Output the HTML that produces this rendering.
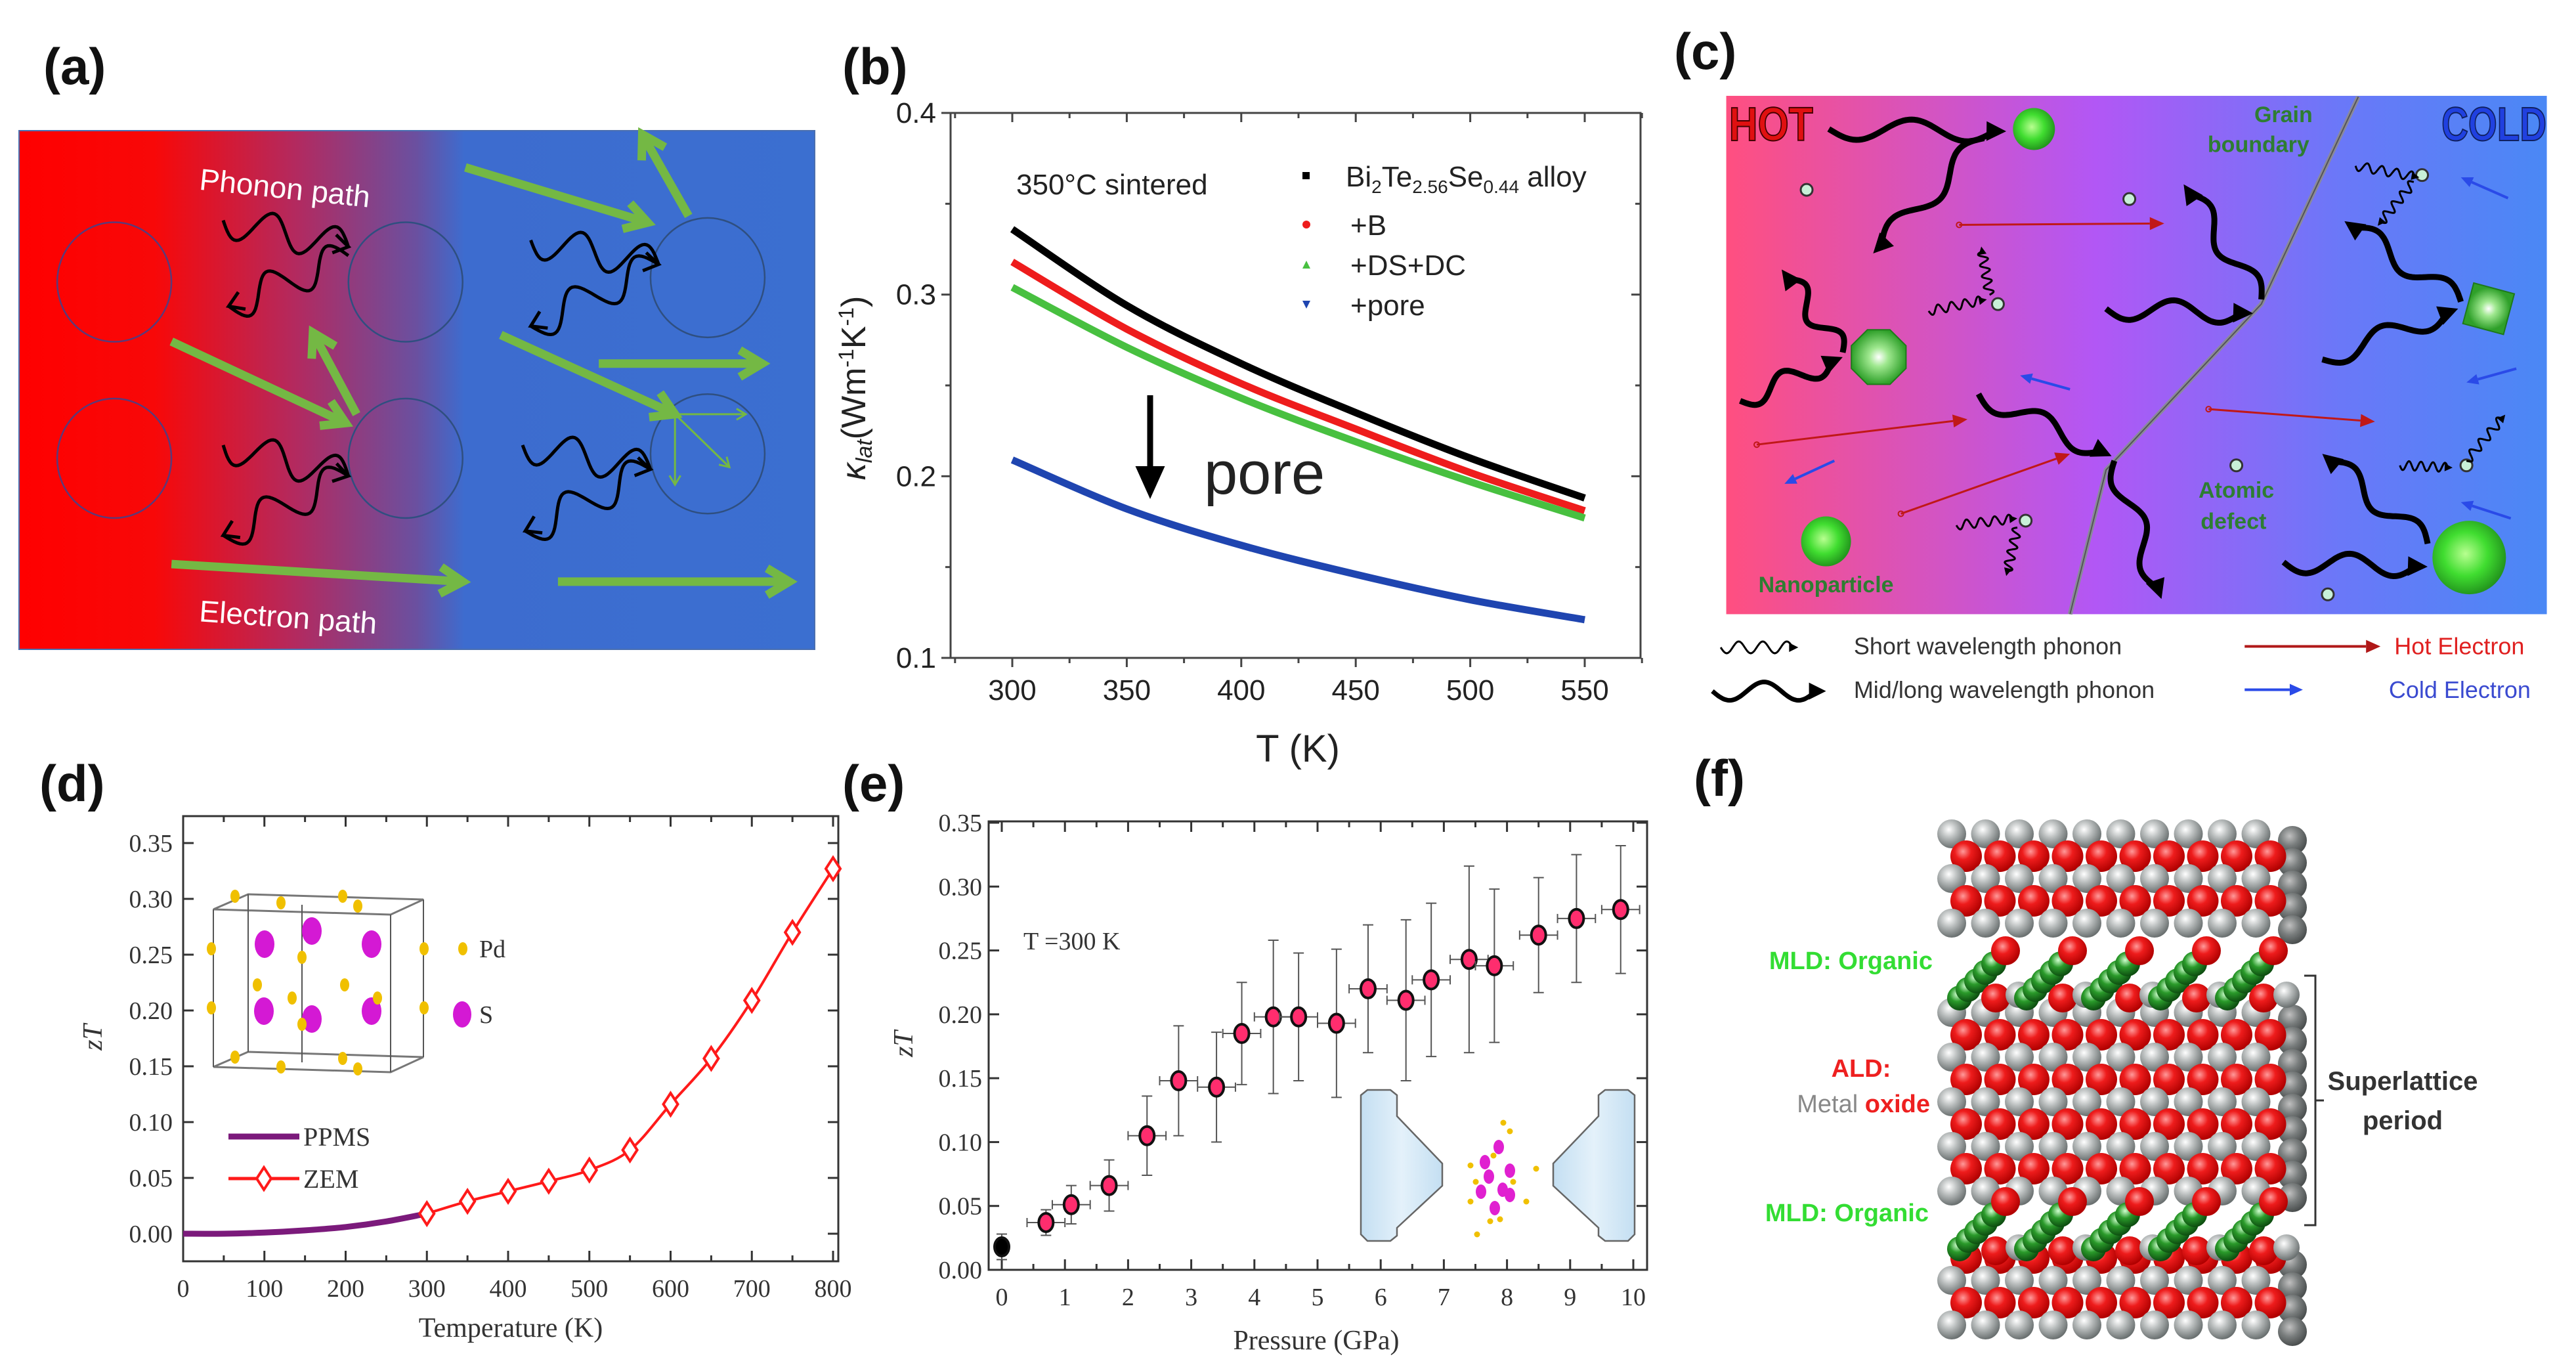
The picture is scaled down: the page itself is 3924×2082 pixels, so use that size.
<!DOCTYPE html>
<html><head><meta charset="utf-8">
<style>
html,body{margin:0;padding:0;background:#fff;}
svg{display:block;}
.sans{font-family:"Liberation Sans",sans-serif;}
.serif{font-family:"Liberation Serif",serif;}
</style></head>
<body>
<svg id="fig" xmlns="http://www.w3.org/2000/svg" width="3924" height="2082" viewBox="0 0 3924 2082">
<defs>
<linearGradient id="gA" x1="0" x2="1" y1="0" y2="0">
<stop offset="0" stop-color="#ff0000"/><stop offset="0.17" stop-color="#f80808"/><stop offset="0.35" stop-color="#b22a60"/><stop offset="0.5" stop-color="#6a50a0"/><stop offset="0.56" stop-color="#3d6ccf"/><stop offset="1" stop-color="#3b6fd0"/>
</linearGradient>
<linearGradient id="gC" x1="0" x2="1" y1="0" y2="0">
<stop offset="0" stop-color="#ff4f80"/><stop offset="0.45" stop-color="#b257f5"/><stop offset="0.75" stop-color="#6a78f8"/><stop offset="1" stop-color="#4a88f5"/>
</linearGradient>
<linearGradient id="gAnvil" x1="0" x2="1" y1="0" y2="0"><stop offset="0" stop-color="#c4dff2"/><stop offset="0.5" stop-color="#e4f1fa"/><stop offset="1" stop-color="#c4dff2"/></linearGradient>
<radialGradient id="gBall" cx="0.45" cy="0.45" r="0.6"><stop offset="0" stop-color="#b8ff90"/><stop offset="0.5" stop-color="#40dd30"/><stop offset="1" stop-color="#1e8a1a"/></radialGradient>
<radialGradient id="gOct" cx="0.5" cy="0.5" r="0.5"><stop offset="0" stop-color="#ffffff"/><stop offset="0.35" stop-color="#9fe88f"/><stop offset="1" stop-color="#2fa02a"/></radialGradient>
<radialGradient id="gRed" cx="0.4" cy="0.35" r="0.65"><stop offset="0" stop-color="#ff9a9a"/><stop offset="0.4" stop-color="#ee1c1c"/><stop offset="1" stop-color="#b00000"/></radialGradient>
<radialGradient id="gGrey" cx="0.4" cy="0.35" r="0.65"><stop offset="0" stop-color="#ffffff"/><stop offset="0.45" stop-color="#b8bcbc"/><stop offset="1" stop-color="#6a7070"/></radialGradient>
<radialGradient id="gDark" cx="0.4" cy="0.35" r="0.65"><stop offset="0" stop-color="#c0c0c0"/><stop offset="0.5" stop-color="#7a7e7e"/><stop offset="1" stop-color="#4a4e4e"/></radialGradient>
<radialGradient id="gGrn" cx="0.4" cy="0.35" r="0.65"><stop offset="0" stop-color="#d0ffd0"/><stop offset="0.45" stop-color="#2a9a2a"/><stop offset="1" stop-color="#0d4d10"/></radialGradient>
</defs>
<g id="layer"></g>
</svg>
<script>
// ---------- Panel (b) data ----------
const bTemps = [300, 350, 400, 450, 500, 550];
const bAlloy = [0.336, 0.294, 0.262, 0.235, 0.210, 0.188];
const bB     = [0.318, 0.281, 0.251, 0.226, 0.202, 0.181];
const bDSDC  = [0.304, 0.271, 0.243, 0.219, 0.197, 0.177];
const bPore  = [0.209, 0.182, 0.162, 0.146, 0.132, 0.121];
const bXTicks = [300, 350, 400, 450, 500, 550];
const bYTicks = [0.1, 0.2, 0.3, 0.4];
// ---------- Panel (d) data ----------
const dPpmsT = [0, 50, 100, 150, 200, 250, 300];
const dPpmsZT = [0, 0, 0.001, 0.003, 0.006, 0.011, 0.018];
const dZemT = [300, 350, 400, 450, 500, 550, 600, 650, 700, 750, 800];
const dZemZT = [0.018, 0.029, 0.038, 0.047, 0.057, 0.075, 0.116, 0.157, 0.209, 0.270, 0.327];
const dXTicks = [0, 100, 200, 300, 400, 500, 600, 700, 800];
const dYTicks = ['0.00','0.05','0.10','0.15','0.20','0.25','0.30','0.35'];
// ---------- Panel (e) data ----------
const ePressure = [0.7, 1.1, 1.7, 2.3, 2.8, 3.4, 3.8, 4.3, 4.7, 5.3, 5.8, 6.4, 6.8, 7.4, 7.8, 8.5, 9.1, 9.8];
const eZT       = [0.037, 0.051, 0.066, 0.105, 0.148, 0.143, 0.185, 0.198, 0.198, 0.193, 0.220, 0.211, 0.227, 0.243, 0.238, 0.262, 0.275, 0.282];
const eErr      = [0.010, 0.015, 0.020, 0.031, 0.043, 0.043, 0.040, 0.060, 0.050, 0.058, 0.050, 0.063, 0.060, 0.073, 0.060, 0.045, 0.050, 0.050];
const ePErr = 0.3;
const eAmbientP = [0];
const eAmbientZT = [0.018];
const eAmbientErr = [0.010];
const eXTicks = [0,1,2,3,4,5,6,7,8,9,10];
const eYTicks = ['0.00','0.05','0.10','0.15','0.20','0.25','0.30','0.35'];

const NS = 'http://www.w3.org/2000/svg';
const root = document.getElementById('layer');
function mk(tag, attrs, parent, text) {
  const e = document.createElementNS(NS, tag);
  for (const k in attrs) e.setAttribute(k, attrs[k]);
  if (text !== undefined) e.textContent = text;
  (parent || root).appendChild(e);
  return e;
}
function grp(name, parent) {
  const g = mk('g', {}, parent);
  
  
  return g;
}
function smoothPath(pts) {
  let d = 'M' + pts[0][0] + ',' + pts[0][1];
  for (let i = 0; i < pts.length - 1; i++) {
    const p0 = pts[Math.max(0, i - 1)], p1 = pts[i], p2 = pts[i + 1], p3 = pts[Math.min(pts.length - 1, i + 2)];
    const c1 = [p1[0] + (p2[0] - p0[0]) / 6, p1[1] + (p2[1] - p0[1]) / 6];
    const c2 = [p2[0] - (p3[0] - p1[0]) / 6, p2[1] - (p3[1] - p1[1]) / 6];
    d += ' C' + c1.join(',') + ' ' + c2.join(',') + ' ' + p2.join(',');
  }
  return d;
}
function wavy(x1, y1, x2, y2, amp, n, sw, col, head, parent) {
  const dx = x2 - x1, dy = y2 - y1, L = Math.hypot(dx, dy);
  const ux = dx / L, uy = dy / L, nx = -uy, ny = ux;
  const hl = head;
  const Lw = L - hl * 0.6;
  let d = '';
  const steps = 60;
  for (let i = 0; i <= steps; i++) {
    const t = i / steps;
    const s = t * Lw, o = amp * Math.sin(t * n * 2 * Math.PI);
    const x = x1 + ux * s + nx * o, y = y1 + uy * s + ny * o;
    d += (i ? ' L' : 'M') + x.toFixed(1) + ',' + y.toFixed(1);
  }
  mk('path', {d: d, fill: 'none', stroke: col, 'stroke-width': sw, 'stroke-linejoin': 'round'}, parent);
  const bx = x2 - ux * hl, by = y2 - uy * hl;
  mk('path', {d: `M${x2},${y2} L${bx + nx * hl * 0.5},${by + ny * hl * 0.5} L${bx - nx * hl * 0.5},${by - ny * hl * 0.5} Z`, fill: col}, parent);
}
function arrow(x1, y1, x2, y2, sw, col, head, parent, open) {
  const dx = x2 - x1, dy = y2 - y1, L = Math.hypot(dx, dy);
  const ux = dx / L, uy = dy / L, nx = -uy, ny = ux;
  const bx = x2 - ux * head, by = y2 - uy * head;
  if (open) {
    mk('line', {x1: x1, y1: y1, x2: x2 - ux * sw * 0.5, y2: y2 - uy * sw * 0.5, stroke: col, 'stroke-width': sw}, parent);
    mk('path', {d: `M${bx + nx * head * 0.6},${by + ny * head * 0.6} L${x2},${y2} L${bx - nx * head * 0.6},${by - ny * head * 0.6}`, fill: 'none', stroke: col, 'stroke-width': sw, 'stroke-linejoin': 'miter'}, parent);
  } else {
    mk('line', {x1: x1, y1: y1, x2: bx, y2: by, stroke: col, 'stroke-width': sw}, parent);
    mk('path', {d: `M${x2},${y2} L${bx + nx * head * 0.45},${by + ny * head * 0.45} L${bx - nx * head * 0.45},${by - ny * head * 0.45} Z`, fill: col}, parent);
  }
}

// ---------- panel labels ----------
[['(a)', 66, 128], ['(b)', 1283, 128], ['(c)', 2550, 105], ['(d)', 60, 1220], ['(e)', 1283, 1220], ['(f)', 2580, 1212]].forEach(l => {
  const t = mk('text', {x: l[1], y: l[2], 'font-size': 78, 'font-weight': 'bold', class: 'sans', fill: '#111'}, root, l[0]);
  
  
});

// ================= Panel (a) =================
(function () {
  const g = grp('panel-a-schematic');
  const P = (x, y) => [x / 1.206, y / 1.49];
  mk('rect', {x: 29, y: 199, width: 1212, height: 790, fill: 'url(#gA)', stroke: '#4a6fb0', 'stroke-width': 2}, g);
  [[210, 640], [210, 1040], [745, 640], [745, 1040], [1300, 630], [1300, 1030]].forEach((c, i) => {
    const p = P(c[0], c[1]);
    mk('ellipse', {cx: p[0], cy: p[1], rx: 87, ry: 91, fill: 'none', stroke: i < 2 ? '#5a3a7a' : '#2f4f80', 'stroke-width': 2.5}, g);
  });
  const thick = [[315, 775, 635, 960], [655, 940, 575, 755], [855, 380, 1190, 505], [1265, 490, 1180, 305], [920, 760, 1240, 940], [1100, 825, 1400, 825], [315, 1280, 850, 1320], [1025, 1320, 1450, 1320]];
  thick.forEach(a => { const p = P(a[0], a[1]), q = P(a[2], a[3]); arrow(p[0], p[1], q[0], q[1], 13, '#74b844', 34, g, true); });
  [[1240, 940, 1370, 940], [1240, 940, 1240, 1100], [1240, 940, 1340, 1060]].forEach(a => { const p = P(a[0], a[1]), q = P(a[2], a[3]); arrow(p[0], p[1], q[0], q[1], 3, '#74b844', 14, g, true); });
  const waves = [[410, 500, 640, 560], [640, 580, 420, 695], [410, 1010, 640, 1080], [640, 1080, 410, 1215], [975, 545, 1210, 600], [1210, 600, 975, 740], [960, 1010, 1195, 1065], [1195, 1065, 965, 1205]];
  waves.forEach(w => { const p = P(w[0], w[1]), q = P(w[2], w[3]); wavy(p[0], p[1], q[0], q[1], 26, 2, 5, '#000', 0.1, g); const L = Math.hypot(q[0]-p[0], q[1]-p[1]); const ux=(q[0]-p[0])/L, uy=(q[1]-p[1])/L; mk('path',{d:`M${q[0]-ux*22-uy*14},${q[1]-uy*22+ux*14} L${q[0]},${q[1]} L${q[0]-ux*22+uy*14},${q[1]-uy*22-ux*14}`,fill:'none',stroke:'#000','stroke-width':5},g); });
  let p = P(365, 430);
  mk('text', {x: p[0], y: p[1], 'font-size': 46, fill: '#fff', class: 'sans', transform: `rotate(6 ${p[0]} ${p[1]})`}, g, 'Phonon path');
  p = P(365, 1410);
  mk('text', {x: p[0], y: p[1], 'font-size': 46, fill: '#fff', class: 'sans', transform: `rotate(4 ${p[0]} ${p[1]})`}, g, 'Electron path');
})();

// ================= Panel (b) =================
(function () {
  const g = grp('panel-b-chart');
  const L = 1448, R = 2499, T = 172, B = 1002;
  const xs = v => 1542 + (v - 300) * (2414 - 1542) / 250;
  const ys = v => 1002 - (v - 0.1) * (1002 - 172) / 0.3;
  const fr = mk('rect', {x: L, y: T, width: R - L, height: B - T, fill: 'none', stroke: '#444', 'stroke-width': 3}, g);
  
  
  for (let v = 275; v <= 575; v += 25) {
    const x = xs(v), len = v % 50 === 0 ? 14 : 8;
    mk('line', {x1: x, y1: B, x2: x, y2: B + len, stroke: '#444', 'stroke-width': 3}, g);
    mk('line', {x1: x, y1: T, x2: x, y2: T + len, stroke: '#444', 'stroke-width': 3}, g);
  }
  for (let v = 0.1; v <= 0.4001; v += 0.05) {
    const y = ys(v), len = Math.abs(v * 10 - Math.round(v * 10)) < 1e-6 ? 14 : 8;
    mk('line', {x1: L - len, y1: y, x2: L, y2: y, stroke: '#444', 'stroke-width': 3}, g);
    mk('line', {x1: R - len, y1: y, x2: R, y2: y, stroke: '#444', 'stroke-width': 3}, g);
  }
  bXTicks.forEach(v => {
    const t = mk('text', {x: xs(v), y: 1066, 'text-anchor': 'middle', 'font-size': 44, class: 'sans', fill: '#222'}, g, String(v));
    
    
  });
  bYTicks.forEach(v => {
    const t = mk('text', {x: L - 22, y: ys(v) + 15, 'text-anchor': 'end', 'font-size': 44, class: 'sans', fill: '#222'}, g, v.toFixed(1));
    
    
  });
  const xt = mk('text', {x: 1977, y: 1160, 'text-anchor': 'middle', 'font-size': 58, class: 'sans', fill: '#222'}, g, 'T (K)');
  
  
  const yt = mk('text', {x: 0, y: 0, 'text-anchor': 'middle', 'font-size': 52, class: 'sans', fill: '#222', transform: 'translate(1318,591) rotate(-90)'}, g);
  
  
  mk('tspan', {'font-style': 'italic'}, yt, 'κ');
  mk('tspan', {'font-size': 34, 'font-style': 'italic', dy: 10}, yt, 'lat');
  mk('tspan', {dy: -10}, yt, '(Wm');
  mk('tspan', {'font-size': 32, dy: -18}, yt, '-1');
  mk('tspan', {dy: 18}, yt, 'K');
  mk('tspan', {'font-size': 32, dy: -18}, yt, '-1');
  mk('tspan', {dy: 18}, yt, ')');
  const series = [[bAlloy, '#000000', 'series-alloy'], [bB, '#ee1c1c', 'series-b'], [bDSDC, '#48c040', 'series-ds-dc'], [bPore, '#1f45b0', 'series-pore']];
  series.forEach(s => {
    const pts = bTemps.map((t, i) => [xs(t), ys(s[0][i])]);
    const p = mk('path', {d: smoothPath(pts), fill: 'none', stroke: s[1], 'stroke-width': 11, 'stroke-linecap': 'butt'}, g);
    
    
  });
  mk('text', {x: 1548, y: 296, 'font-size': 44, class: 'sans', fill: '#222'}, g, '350°C sintered');
  const legRows = [[268, '#000', 'sq'], [342, '#ee1c1c', 'dot'], [403, '#48c040', 'tri'], [464, '#1f45b0', 'tri-d']];
  legRows.forEach((r, i) => {
    const lg = grp('legend-entry', g);
    if (r[2] === 'sq') mk('rect', {x: 1984, y: r[0] - 6, width: 11, height: 11, fill: r[1]}, lg);
    else if (r[2] === 'dot') mk('circle', {cx: 1990, cy: r[0], r: 6, fill: r[1]}, lg);
    else if (r[2] === 'tri') mk('path', {d: `M1984,${r[0] + 6} L1996,${r[0] + 6} L1990,${r[0] - 6} Z`, fill: r[1]}, lg);
    else mk('path', {d: `M1984,${r[0] - 6} L1996,${r[0] - 6} L1990,${r[0] + 6} Z`, fill: r[1]}, lg);
    if (i === 0) {
      const t = mk('text', {x: 2050, y: r[0] + 16, 'font-size': 44, class: 'sans', fill: '#222'}, lg);
      mk('tspan', {}, t, 'Bi');
      mk('tspan', {'font-size': 28, dy: 10}, t, '2');
      mk('tspan', {dy: -10}, t, 'Te');
      mk('tspan', {'font-size': 28, dy: 10}, t, '2.56');
      mk('tspan', {dy: -10}, t, 'Se');
      mk('tspan', {'font-size': 28, dy: 10}, t, '0.44');
      mk('tspan', {dy: -10}, t, ' alloy');
    } else {
      mk('text', {x: 2057, y: r[0] + 16, 'font-size': 44, class: 'sans', fill: '#222'}, lg, ['', '+B', '+DS+DC', '+pore'][i]);
    }
  });
  arrow(1752, 602, 1752, 760, 9, '#000', 50, g);
  mk('text', {x: 1834, y: 752, 'font-size': 92, class: 'sans', fill: '#222'}, g, 'pore');
})();

// ================= Panel (c) =================
(function () {
  const g = grp('panel-c-schematic');
  const C = (x, y) => [2600 + x / 1.184, y / 1.425];
  let a = C(35, 208), b = C(1515, 1333);
  mk('rect', {x: a[0], y: a[1], width: b[0] - a[0], height: b[1] - a[1], fill: 'url(#gC)'}, g);
  const gb = [[1175, 210], [1000, 660], [720, 1020], [655, 1333]].map(p => C(p[0], p[1]).join(',')).join(' ');
  mk('polyline', {points: gb, fill: 'none', stroke: '#8a8a9a', 'stroke-width': 7}, g);
  mk('polyline', {points: gb, fill: 'none', stroke: '#555', 'stroke-width': 2}, g);
  let p = C(590, 280); mk('circle', {cx: p[0], cy: p[1], r: 32, fill: 'url(#gBall)'}, g);
  p = C(215, 1175); mk('circle', {cx: p[0], cy: p[1], r: 38, fill: 'url(#gBall)'}, g);
  p = C(1375, 1210); mk('circle', {cx: p[0], cy: p[1], r: 56, fill: 'url(#gBall)'}, g);
  p = C(310, 775);
  let oct = '';
  for (let i = 0; i < 8; i++) { const an = Math.PI / 8 + i * Math.PI / 4; oct += (p[0] + 45 * Math.cos(an)).toFixed(1) + ',' + (p[1] + 45 * Math.sin(an)).toFixed(1) + ' '; }
  mk('polygon', {points: oct, fill: 'url(#gOct)', stroke: '#1e7a1a', 'stroke-width': 2}, g);
  p = C(1410, 670);
  mk('rect', {x: p[0] - 32, y: p[1] - 32, width: 64, height: 64, fill: 'url(#gOct)', stroke: '#1e7a1a', 'stroke-width': 2, transform: `rotate(15 ${p[0]} ${p[1]})`}, g);
  [[180, 412], [762, 432], [525, 660], [1290, 380], [575, 1130], [955, 1010], [1120, 1290], [1370, 1010]].forEach(d => {
    const q = C(d[0], d[1]); mk('circle', {cx: q[0], cy: q[1], r: 9, fill: '#c8f0d8', stroke: '#333', 'stroke-width': 3}, g);
  });
  [[455, 488, 825, 485], [90, 965, 470, 910], [350, 1115, 655, 985], [905, 888, 1205, 915]].forEach(r => {
    const s = C(r[0], r[1]), e = C(r[2], r[3]); arrow(s[0], s[1], e[0], e[1], 3, '#c01818', 22, g);
    mk('circle', {cx: s[0], cy: s[1], r: 4, fill: 'none', stroke: '#c01818', 'stroke-width': 2}, g);
  });
  [[655, 845, 565, 815], [230, 1000, 140, 1050], [1445, 430, 1360, 385], [1460, 800, 1370, 830], [1450, 1125, 1360, 1090]].forEach(r => {
    const s = C(r[0], r[1]), e = C(r[2], r[3]); arrow(s[0], s[1], e[0], e[1], 4, '#2a4ae8', 18, g);
  });
  [[220, 280, 540, 285], [500, 300, 300, 550], [60, 870, 245, 775], [245, 765, 135, 585], [490, 855, 730, 990], [735, 1000, 820, 1300], [720, 670, 985, 680], [1000, 650, 860, 400], [1110, 780, 1355, 670], [1360, 655, 1150, 480], [1040, 1220, 1300, 1230], [1300, 1180, 1110, 985]].forEach(w => {
    const s = C(w[0], w[1]), e = C(w[2], w[3]); wavy(s[0], s[1], e[0], e[1], 16, 1.5, 9, '#000', 30, g);
  });
  [[400, 675, 505, 650], [510, 640, 495, 535], [1170, 360, 1285, 385], [1275, 395, 1210, 490], [450, 1140, 560, 1125], [560, 1145, 540, 1250], [1250, 1010, 1345, 1015], [1370, 1000, 1440, 900]].forEach(w => {
    const s = C(w[0], w[1]), e = C(w[2], w[3]); wavy(s[0], s[1], e[0], e[1], 7, 4, 3, '#000', 12, g);
  });
  p = C(40, 305);
  mk('text', {x: p[0], y: p[1], 'font-size': 72, 'font-weight': 'bold', class: 'sans', fill: '#e01010', stroke: '#400', 'stroke-width': 2, textLength: 128, lengthAdjust: 'spacingAndGlyphs'}, g, 'HOT');
  p = C(1325, 305);
  mk('text', {x: p[0], y: p[1], 'font-size': 72, 'font-weight': 'bold', class: 'sans', fill: '#2040e0', stroke: '#102060', 'stroke-width': 2, textLength: 160, lengthAdjust: 'spacingAndGlyphs'}, g, 'COLD');
  [['Grain', 1040, 265], ['boundary', 995, 330], ['Atomic', 955, 1080], ['defect', 950, 1148], ['Nanoparticle', 215, 1285]].forEach(t => {
    const q = C(t[1], t[2]); mk('text', {x: q[0], y: q[1], 'text-anchor': 'middle', 'font-size': 34, 'font-weight': 'bold', class: 'sans', fill: '#2e7d32'}, g, t[0]);
  });
  const lg = grp('panel-c-legend', g);
  let s = C(25, 1405), e = C(165, 1405); wavy(s[0], s[1], e[0], e[1], 9, 3, 3, '#000', 14, lg);
  s = C(10, 1500); e = C(215, 1500); wavy(s[0], s[1], e[0], e[1], 14, 1.5, 7, '#000', 26, lg);
  s = C(970, 1403); e = C(1215, 1403); arrow(s[0], s[1], e[0], e[1], 4, '#b01818', 22, lg);
  s = C(970, 1497); e = C(1075, 1497); arrow(s[0], s[1], e[0], e[1], 4, '#2a4ae8', 20, lg);
  [['Short wavelength phonon', 265, 1420, '#333'], ['Mid/long wavelength phonon', 265, 1515, '#333'], ['Hot Electron', 1240, 1420, '#e02020'], ['Cold Electron', 1230, 1515, '#3a4ad0']].forEach(t => {
    const q = C(t[1], t[2]); mk('text', {x: q[0], y: q[1], 'font-size': 36, class: 'sans', fill: t[3]}, lg, t[0]);
  });
})();

// ================= Panel (d) =================
(function () {
  const g = grp('panel-d-chart');
  const L = 279, R = 1277, T = 1243, B = 1921;
  const xs = v => 279 + v * (1269 - 279) / 800;
  const ys = v => 1879 - v * (1879 - 1284) / 0.35;
  mk('rect', {x: L, y: T, width: R - L, height: B - T, fill: 'none', stroke: '#333', 'stroke-width': 3}, g);
  for (let v = 0; v <= 800; v += 50) {
    const len = v % 100 === 0 ? 16 : 9;
    mk('line', {x1: xs(v), y1: B, x2: xs(v), y2: B - len, stroke: '#333', 'stroke-width': 3}, g);
    mk('line', {x1: xs(v), y1: T, x2: xs(v), y2: T + len, stroke: '#333', 'stroke-width': 3}, g);
  }
  dYTicks.forEach(v => {
    const y = ys(parseFloat(v));
    mk('line', {x1: L, y1: y, x2: L + 16, y2: y, stroke: '#333', 'stroke-width': 3}, g);
    mk('line', {x1: R - 16, y1: y, x2: R, y2: y, stroke: '#333', 'stroke-width': 3}, g);
    const t = mk('text', {x: L - 16, y: y + 13, 'text-anchor': 'end', 'font-size': 38, class: 'serif', fill: '#333'}, g, v);
    
    
  });
  dXTicks.forEach(v => {
    const t = mk('text', {x: xs(v), y: 1975, 'text-anchor': 'middle', 'font-size': 38, class: 'serif', fill: '#333'}, g, String(v));
    
    
  });
  const xt = mk('text', {x: 778, y: 2036, 'text-anchor': 'middle', 'font-size': 42, class: 'serif', fill: '#333'}, g, 'Temperature (K)');
  
  
  const yt = mk('text', {x: 0, y: 0, 'text-anchor': 'middle', 'font-size': 42, 'font-style': 'italic', class: 'serif', fill: '#333', transform: 'translate(155,1580) rotate(-90)'}, g, 'zT');
  
  
  const pp = mk('path', {d: smoothPath(dPpmsT.map((t, i) => [xs(t), ys(dPpmsZT[i])])), fill: 'none', stroke: '#7b1a7b', 'stroke-width': 9}, g);
  
  
  const zp = mk('path', {d: smoothPath(dZemT.map((t, i) => [xs(t), ys(dZemZT[i])])), fill: 'none', stroke: '#ff1a1a', 'stroke-width': 4}, g);
  
  
  dZemT.forEach((t, i) => {
    const x = xs(t), y = ys(dZemZT[i]);
    const m = mk('path', {d: `M${x},${y - 17} L${x + 11},${y} L${x},${y + 17} L${x - 11},${y} Z`, fill: '#fff', stroke: '#ff1a1a', 'stroke-width': 4}, g);
    
    
  });
  const lg = grp('legend', g);
  mk('line', {x1: 348, y1: 1731, x2: 456, y2: 1731, stroke: '#7b1a7b', 'stroke-width': 9}, lg);
  mk('text', {x: 462, y: 1745, 'font-size': 40, class: 'serif', fill: '#333'}, lg, 'PPMS');
  mk('line', {x1: 348, y1: 1795, x2: 456, y2: 1795, stroke: '#ff1a1a', 'stroke-width': 5}, lg);
  mk('path', {d: 'M402,1778 L413,1795 L402,1812 L391,1795 Z', fill: '#fff', stroke: '#ff1a1a', 'stroke-width': 4}, lg);
  mk('text', {x: 462, y: 1809, 'font-size': 40, class: 'serif', fill: '#333'}, lg, 'ZEM');
  const ins = grp('crystal-structure-inset', g);
  mk('polygon', {points: '325,1385 595,1393 645,1370 378,1362', fill: 'none', stroke: '#777', 'stroke-width': 3}, ins);
  mk('polygon', {points: '325,1625 595,1633 645,1610 378,1602', fill: 'none', stroke: '#777', 'stroke-width': 3}, ins);
  [[325, 1385, 325, 1625], [595, 1393, 595, 1633], [645, 1370, 645, 1610], [378, 1362, 378, 1602], [460, 1378, 460, 1618]].forEach(l => mk('line', {x1: l[0], y1: l[1], x2: l[2], y2: l[3], stroke: '#555', 'stroke-width': 2}, ins));
  [[403, 1438], [475, 1418], [566, 1438], [402, 1540], [475, 1552], [566, 1540]].forEach(c => mk('ellipse', {cx: c[0], cy: c[1], rx: 15, ry: 21, fill: '#d419d4'}, ins));
  [[358, 1365], [428, 1375], [522, 1365], [545, 1380], [322, 1445], [646, 1445], [460, 1458], [392, 1500], [445, 1520], [525, 1500], [575, 1520], [322, 1535], [646, 1535], [460, 1560], [358, 1610], [428, 1625], [522, 1612], [545, 1628], [705, 1445]].forEach(c => mk('ellipse', {cx: c[0], cy: c[1], rx: 7, ry: 10, fill: '#f0c000'}, ins));
  mk('ellipse', {cx: 704, cy: 1545, rx: 14, ry: 20, fill: '#d419d4'}, ins);
  mk('text', {x: 730, y: 1458, 'font-size': 38, class: 'serif', fill: '#333'}, ins, 'Pd');
  mk('text', {x: 730, y: 1558, 'font-size': 38, class: 'serif', fill: '#333'}, ins, 'S');
})();

// ================= Panel (e) =================
(function () {
  const g = grp('panel-e-chart');
  const L = 1506, R = 2509, T = 1251, B = 1934;
  const xs = v => 1526 + v * (2488 - 1526) / 10;
  const ys = v => 1934 - v * (1934 - 1253) / 0.35;
  mk('rect', {x: L, y: T, width: R - L, height: B - T, fill: 'none', stroke: '#333', 'stroke-width': 3}, g);
  for (let v = 0; v <= 10.001; v += 0.5) {
    const len = Math.abs(v - Math.round(v)) < 1e-6 ? 16 : 9;
    mk('line', {x1: xs(v), y1: B, x2: xs(v), y2: B - len, stroke: '#333', 'stroke-width': 3}, g);
    mk('line', {x1: xs(v), y1: T, x2: xs(v), y2: T + len, stroke: '#333', 'stroke-width': 3}, g);
  }
  eYTicks.forEach(v => {
    const y = ys(parseFloat(v));
    mk('line', {x1: L, y1: y, x2: L + 16, y2: y, stroke: '#333', 'stroke-width': 3}, g);
    mk('line', {x1: R - 16, y1: y, x2: R, y2: y, stroke: '#333', 'stroke-width': 3}, g);
    const t = mk('text', {x: L - 10, y: y + 13, 'text-anchor': 'end', 'font-size': 38, class: 'serif', fill: '#333'}, g, v);
    
    
  });
  eXTicks.forEach(v => {
    const t = mk('text', {x: xs(v), y: 1988, 'text-anchor': 'middle', 'font-size': 38, class: 'serif', fill: '#333'}, g, String(v));
    
    
  });
  const xt = mk('text', {x: 2005, y: 2055, 'text-anchor': 'middle', 'font-size': 42, class: 'serif', fill: '#333'}, g, 'Pressure (GPa)');
  
  
  const yt = mk('text', {x: 0, y: 0, 'text-anchor': 'middle', 'font-size': 42, 'font-style': 'italic', class: 'serif', fill: '#333', transform: 'translate(1390,1590) rotate(-90)'}, g, 'zT');
  
  
  mk('text', {x: 1559, y: 1446, 'font-size': 38, class: 'serif', fill: '#333'}, g, 'T =300 K');
  const ins = grp('diamond-anvil-inset', g);
  mk('path', {d: 'M2073,1668 L2083,1660 L2118,1660 L2128,1668 L2128,1700 L2197,1772 L2197,1806 L2128,1870 L2128,1882 L2118,1890 L2083,1890 L2073,1880 Z', fill: 'url(#gAnvil)', stroke: '#666', 'stroke-width': 2.5}, ins);
  mk('path', {d: 'M2490,1668 L2480,1660 L2445,1660 L2435,1668 L2435,1700 L2366,1772 L2366,1806 L2435,1870 L2435,1882 L2445,1890 L2480,1890 L2490,1880 Z', fill: 'url(#gAnvil)', stroke: '#666', 'stroke-width': 2.5}, ins);
  [[2283, 1747], [2262, 1770], [2300, 1783], [2268, 1792], [2289, 1812], [2256, 1815], [2300, 1820], [2277, 1840]].forEach(c => mk('ellipse', {cx: c[0], cy: c[1], rx: 8, ry: 11, fill: '#e020d0'}, ins));
  [[2290, 1710], [2300, 1723], [2240, 1775], [2340, 1780], [2248, 1800], [2275, 1760], [2305, 1800], [2240, 1830], [2325, 1830], [2270, 1860], [2250, 1880], [2285, 1857]].forEach(c => mk('circle', {cx: c[0], cy: c[1], r: 4.5, fill: '#f0c000'}, ins));
  function pt(p, v, er, fill, name) {
    const x = xs(p), y = ys(v);
    const pg = grp(name, g);
    mk('line', {x1: x, y1: ys(v - er), x2: x, y2: ys(v + er), stroke: '#555', 'stroke-width': 2}, pg);
    mk('line', {x1: x - 8, y1: ys(v - er), x2: x + 8, y2: ys(v - er), stroke: '#555', 'stroke-width': 2}, pg);
    mk('line', {x1: x - 8, y1: ys(v + er), x2: x + 8, y2: ys(v + er), stroke: '#555', 'stroke-width': 2}, pg);
    if (fill !== '#000') {
      mk('line', {x1: xs(p - ePErr), y1: y, x2: xs(p + ePErr), y2: y, stroke: '#555', 'stroke-width': 2}, pg);
      mk('line', {x1: xs(p - ePErr), y1: y - 7, x2: xs(p - ePErr), y2: y + 7, stroke: '#555', 'stroke-width': 2}, pg);
      mk('line', {x1: xs(p + ePErr), y1: y - 7, x2: xs(p + ePErr), y2: y + 7, stroke: '#555', 'stroke-width': 2}, pg);
    }
    mk('ellipse', {cx: x, cy: y, rx: 11, ry: 14, fill: fill, stroke: '#111', 'stroke-width': 4}, pg);
  }
  eAmbientP.forEach((p, i) => pt(p, eAmbientZT[i], eAmbientErr[i], '#000', 'ambient-point'));
  ePressure.forEach((p, i) => pt(p, eZT[i], eErr[i], '#ff2d6e', 'data-point'));
})();

// ================= Panel (f) =================
(function () {
  const g = grp('panel-f-superlattice');
  const x0 = 2995, dx = 51.5, cols = 10;
  const organicBands = [[1440, 1525], [1822, 1910]];
  const rowY = [];
  for (let y = 1270; y <= 2045; y += 34) rowY.push(y);
  // depth (right side dark atoms)
  rowY.forEach((y, ri) => {
    if (organicBands.some(b => y >= b[0] && y <= b[1])) return;
    mk('circle', {cx: 3492, cy: y + 10, r: 22, fill: 'url(#gDark)'}, g);
  });
  rowY.forEach((y, ri) => {
    if (organicBands.some(b => y >= b[0] && y <= b[1])) return;
    const red = ri % 2 === 1;
    const off = red ? 0 : -22;
    for (let c = 0; c < cols; c++) {
      const x = x0 + c * dx + off;
      if (x > 3475 || x < 2968) continue;
      mk('circle', {cx: x, cy: y, r: red ? 24 : 22, fill: red ? 'url(#gRed)' : 'url(#gGrey)'}, g);
    }
  });
  organicBands.forEach(b => {
    for (let c = 0; c < 5; c++) {
      const bx = x0 - 10 + c * 102;
      [[0, 55], [13, 42], [26, 29], [39, 16], [52, 3]].forEach(o => {
        mk('circle', {cx: bx + o[0], cy: b[0] + 25 + o[1], r: 19, fill: 'url(#gGrn)'}, g);
      });
      mk('circle', {cx: bx + 70, cy: b[0] + 8, r: 22, fill: 'url(#gRed)'}, g);
      mk('circle', {cx: bx + 55, cy: b[1] - 5, r: 22, fill: 'url(#gRed)'}, g);
      mk('circle', {cx: bx + 90, cy: b[1] - 10, r: 20, fill: 'url(#gGrey)'}, g);
    }
  });
  mk('text', {x: 2944, y: 1476, 'text-anchor': 'end', 'font-size': 38, 'font-weight': 'bold', class: 'sans', fill: '#33dd33'}, g, 'MLD: Organic');
  mk('text', {x: 2938, y: 1860, 'text-anchor': 'end', 'font-size': 38, 'font-weight': 'bold', class: 'sans', fill: '#33dd33'}, g, 'MLD: Organic');
  mk('text', {x: 2835, y: 1640, 'text-anchor': 'middle', 'font-size': 38, 'font-weight': 'bold', class: 'sans', fill: '#ee2020'}, g, 'ALD:');
  const mo = mk('text', {x: 2940, y: 1694, 'text-anchor': 'end', 'font-size': 38, class: 'sans'}, g);
  mk('tspan', {fill: '#888'}, mo, 'Metal ');
  mk('tspan', {fill: '#ee2020', 'font-weight': 'bold'}, mo, 'oxide');
  mk('path', {d: 'M3510,1486 L3527,1486 L3527,1866 L3510,1866 M3527,1676 L3540,1676', fill: 'none', stroke: '#333', 'stroke-width': 3}, g);
  mk('text', {x: 3660, y: 1660, 'text-anchor': 'middle', 'font-size': 40, 'font-weight': 'bold', class: 'sans', fill: '#333'}, g, 'Superlattice');
  mk('text', {x: 3660, y: 1720, 'text-anchor': 'middle', 'font-size': 40, 'font-weight': 'bold', class: 'sans', fill: '#333'}, g, 'period');
})();
</script>
</body></html>
